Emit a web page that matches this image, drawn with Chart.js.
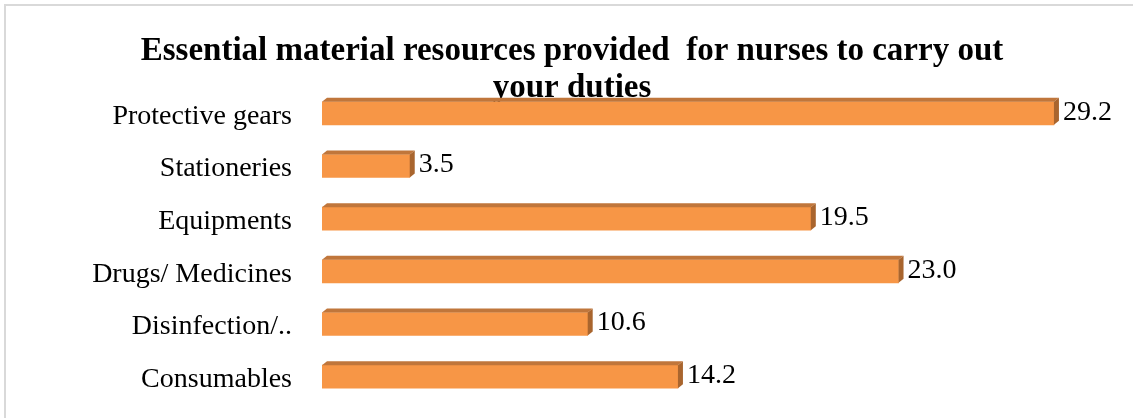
<!DOCTYPE html>
<html>
<head>
<meta charset="utf-8">
<script src="https://cdn.jsdelivr.net/npm/chart.js@4/dist/chart.umd.min.js"></script>
<style>
	html, body { margin: 0; padding: 0; background: #fff; overflow: hidden; }
	#chart { display: block; }
</style>
</head>
<body>
<canvas id="chart" width="1133" height="418"></canvas>
<script>
const categories = ['Protective gears', 'Stationeries', 'Equipments', 'Drugs/ Medicines', 'Disinfection/..', 'Consumables'];
const percentValues = [29.2, 3.5, 19.5, 23.0, 10.6, 14.2];
const titleLines = ['Essential material resources provided  for nurses to carry out', 'your duties'];

const SERIF = '"Liberation Serif", "Times New Roman", serif';
const DEPTH_X = 5;
const DEPTH_Y = 4;

// grey frame edge on top and left, then the title under the bars
const backdropPlugin = {
	id: 'backdrop',
	beforeDatasetsDraw(chart) {
		const ctx = chart.ctx;
		ctx.save();
		ctx.fillStyle = '#d9d9d9';
		ctx.fillRect(4, 4, chart.width - 4, 2);
		ctx.fillRect(4, 4, 2, chart.height - 4);

		ctx.fillStyle = '#000';
		ctx.font = 'bold 33px ' + SERIF;
		ctx.textAlign = 'center';
		ctx.textBaseline = 'alphabetic';
		ctx.fillText(titleLines[0], 572, 60);
		ctx.fillText(titleLines[1], 572, 97);
		ctx.restore();
	},
};

// fake 3D: top and right faces for each bar, then the value label
const bar3dPlugin = {
	id: 'bar3d',
	afterDatasetsDraw(chart) {
		const ctx = chart.ctx;
		const meta = chart.getDatasetMeta(0);
		ctx.save();
		meta.data.forEach((bar, i) => {
			const { x, y, base, height } = bar.getProps(['x', 'y', 'base', 'height'], true);
			const top = y - height / 2;
			const bottom = y + height / 2;

			ctx.fillStyle = '#c0763b';
			ctx.beginPath();
			ctx.moveTo(base, top);
			ctx.lineTo(base + DEPTH_X, top - DEPTH_Y);
			ctx.lineTo(x + DEPTH_X, top - DEPTH_Y);
			ctx.lineTo(x, top);
			ctx.closePath();
			ctx.fill();

			ctx.fillStyle = '#a9652e';
			ctx.beginPath();
			ctx.moveTo(x, top);
			ctx.lineTo(x + DEPTH_X, top - DEPTH_Y);
			ctx.lineTo(x + DEPTH_X, bottom - DEPTH_Y);
			ctx.lineTo(x, bottom);
			ctx.closePath();
			ctx.fill();

			ctx.fillStyle = '#000';
			ctx.font = '28px ' + SERIF;
			ctx.textAlign = 'left';
			ctx.textBaseline = 'middle';
			ctx.fillText(percentValues[i].toFixed(1), x + DEPTH_X + 4, y - 1);
		});
		ctx.restore();
	},
};

new Chart(document.getElementById('chart').getContext('2d'), {
	type: 'bar',
	data: {
		labels: categories,
		datasets: [{
			data: percentValues,
			backgroundColor: '#f79646',
			borderWidth: 0,
			barThickness: 23,
		}],
	},
	options: {
		indexAxis: 'y',
		responsive: false,
		animation: false,
		layout: { padding: { left: 0, right: 59, top: 87, bottom: 15 } },
		scales: {
			x: { display: false, min: 0, max: 30 },
			y: {
				afterFit(scale) {
					scale.width = 322;
					scale.paddingTop = 0;
					scale.paddingBottom = 0;
				},
				border: { display: false },
				grid: { display: false, drawTicks: false },
				ticks: { color: '#000', padding: 30, labelOffset: 3, font: { family: SERIF, size: 28 } },
			},
		},
		plugins: {
			legend: { display: false },
			tooltip: { enabled: false },
		},
	},
	plugins: [backdropPlugin, bar3dPlugin],
});
</script>
</body>
</html>
